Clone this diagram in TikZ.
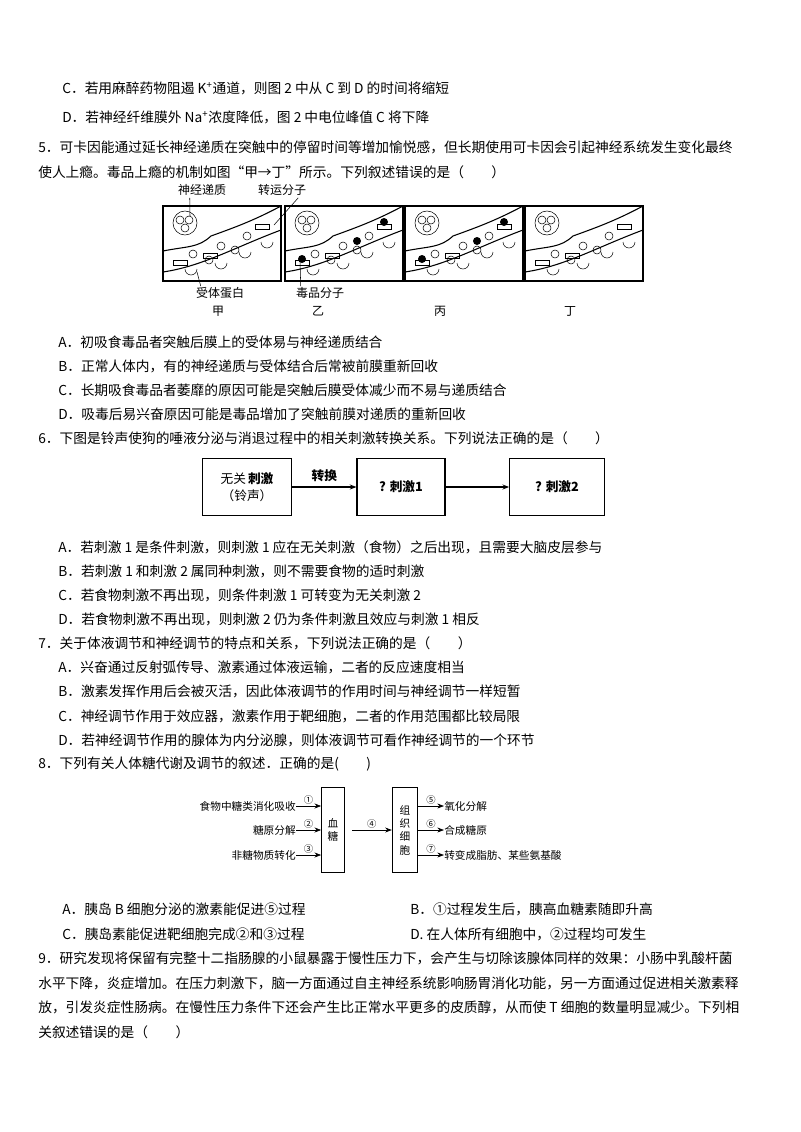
\documentclass[tikz,border=0pt]{standalone}
\usepackage{fontspec}
\setmainfont{Noto Sans CJK SC}
\usetikzlibrary{arrows.meta}
\begin{document}
\begin{tikzpicture}[x=0.75pt,y=-0.75pt,
 txt/.style={anchor=west,inner sep=0pt,font=\fontsize{10.3pt}{12pt}\selectfont},
 sm/.style={inner sep=0pt,font=\fontsize{9pt}{10pt}\selectfont},
 bx/.style={draw,line width=0.8pt},
 arr/.style={-{Stealth[length=5pt]},line width=0.6pt}]
\useasboundingbox (0,0) rectangle (800,1132);
\node[txt] (l1) at (62,88) {C．若用麻醉药物阻遏 K\textsuperscript{+}通道，则图 2 中从 C 到 D 的时间将缩短};
\node[txt] (l2) at (62,117) {D．若神经纤维膜外 Na\textsuperscript{+}浓度降低，图 2 中电位峰值 C 将下降};
\node[txt] (l3) at (38,147) {5．可卡因能通过延长神经递质在突触中的停留时间等增加愉悦感，但长期使用可卡因会引起神经系统发生变化最终};
\node[txt] (l4) at (38,172) {使人上瘾。毒品上瘾的机制如图“甲→丁”所示。下列叙述错误的是（\qquad）};
% synapse panels
\foreach \px/\dr in {163/0,285/1,405/2,525/0}{
 \begin{scope}[shift={(\px,206)}]
 \draw[line width=1pt] (0,0) rectangle (118,75);
 \draw[line width=0.8pt] (0,45) .. controls (25,40) and (35,42) .. (48,30) .. controls (70,22) and (90,15) .. (118,0);
 \draw[line width=0.8pt] (0,66) .. controls (40,60) and (70,42) .. (118,24);
 \draw (22,17) circle (12); \draw (17,14) circle (4); \draw (26,14) circle (4); \draw (22,22) circle (4);
 \foreach \rx/\ry in {28/63,58/57,82/46,104/36}{\draw (\rx-6,\ry) arc (180:0:6);}
 \foreach \cx/\cy in {30/48,58/40,84/30,46/54,72/44}{\draw (\cx,\cy) circle (4);}
 \draw (10,54) rectangle (24,59); \draw (40,47) rectangle (54,52); \draw (92,18) rectangle (106,23);
 \ifnum\dr>0
  \fill (17,53) circle (4); \fill (72,35) circle (4); \fill (99,16) circle (4);
 \fi
 \end{scope}}
\node[sm] (t1) at (202,190) {神经递质}; \node[sm] (t2) at (282,190) {转运分子};
\node[sm] (t3) at (220,293) {受体蛋白}; \node[sm] (t4) at (320,293) {毒品分子};
\draw (t1.south west)++(12,2) -- (190,216);
\draw (t2.south east)++(-8,2) -- (274,225);
\draw (t3.north west)++(5,-1) -- (197,272);
\draw (t4.north west)++(5,-1) -- (300,260);
\node[sm] (g1) at (218,311) {甲}; \node[sm] (g2) at (318,311) {乙};
\node[sm] (g3) at (440,311) {丙}; \node[sm] (g4) at (570,311) {丁};
\node[txt] at (58,342) {A．初吸食毒品者突触后膜上的受体易与神经递质结合};
\node[txt] at (58,366) {B．正常人体内，有的神经递质与受体结合后常被前膜重新回收};
\node[txt] at (58,390) {C．长期吸食毒品者萎靡的原因可能是突触后膜受体减少而不易与递质结合};
\node[txt] at (58,414) {D．吸毒后易兴奋原因可能是毒品增加了突触前膜对递质的重新回收};
\node[txt] at (38,438) {6．下图是铃声使狗的唾液分泌与消退过程中的相关刺激转换关系。下列说法正确的是（\qquad）};
\node[bx,minimum width=67pt,minimum height=43pt,align=center,font=\fontsize{9.5pt}{13pt}\selectfont] (s1) at (247,487) {无关\,\textbf{刺激}\\（铃声）};
\node[bx,minimum width=66pt,minimum height=43pt,font=\fontsize{9.5pt}{12pt}\selectfont] (s2) at (401,487) {\textbf{? 刺激1}};
\node[bx,minimum width=71pt,minimum height=43pt,font=\fontsize{9.5pt}{12pt}\selectfont] (s3) at (557,487) {\textbf{? 刺激2}};
\draw[arr,line width=1pt] (s1) -- node[above,font=\fontsize{9.5pt}{12pt}\selectfont\bfseries]{转换} (s2);
\draw[arr,line width=1pt] (s2) -- (s3);
\node[txt] at (58,547) {A．若刺激 1 是条件刺激，则刺激 1 应在无关刺激（食物）之后出现，且需要大脑皮层参与};
\node[txt] at (58,571) {B．若刺激 1 和刺激 2 属同种刺激，则不需要食物的适时刺激};
\node[txt] at (58,595) {C．若食物刺激不再出现，则条件刺激 1 可转变为无关刺激 2};
\node[txt] at (58,619) {D．若食物刺激不再出现，则刺激 2 仍为条件刺激且效应与刺激 1 相反};
\node[txt] at (38,643) {7．关于体液调节和神经调节的特点和关系，下列说法正确的是（\qquad）};
\node[txt] at (58,667) {A．兴奋通过反射弧传导、激素通过体液运输，二者的反应速度相当};
\node[txt] at (58,691) {B．激素发挥作用后会被灭活，因此体液调节的作用时间与神经调节一样短暂};
\node[txt] at (58,716) {C．神经调节作用于效应器，激素作用于靶细胞，二者的作用范围都比较局限};
\node[txt] at (58,740) {D．若神经调节作用的腺体为内分泌腺，则体液调节可看作神经调节的一个环节};
\node[txt] at (38,764) {8．下列有关人体糖代谢及调节的叙述．正确的是(\qquad)};
% sugar diagram
\node[bx,minimum width=17pt,minimum height=64pt,align=center,inner sep=1pt,font=\fontsize{8pt}{10pt}\selectfont] (xt) at (333,830) {血\\糖};
\node[bx,minimum width=19pt,minimum height=64pt,align=center,inner sep=1pt,font=\fontsize{8pt}{10pt}\selectfont] (zz) at (405,830) {组\\织\\细\\胞};
\foreach \yy/\tt/\nn in {806/食物中糖类消化吸收/①,830/糖原分解/②,855/非糖物质转化/③}{
 \node[sm,anchor=east,font=\fontsize{8pt}{10pt}\selectfont] (a\nn) at (296,\yy) {\tt};
 \draw[arr,line width=0.5pt] (a\nn.east) -- node[above,inner sep=1pt,font=\fontsize{7pt}{8pt}\selectfont]{\nn} (xt.west |- a\nn.east);}
\draw[arr,line width=0.5pt] (352,830) -- node[above,inner sep=1pt,font=\fontsize{7pt}{8pt}\selectfont]{④} (zz.west |- 0,830);
\foreach \yy/\tt/\nn in {806/氧化分解/⑤,830/合成糖原/⑥,855/转变成脂肪、某些氨基酸/⑦}{
 \node[sm,anchor=west,font=\fontsize{8pt}{10pt}\selectfont] (b\nn) at (444,\yy) {\tt};
 \draw[arr,line width=0.5pt] (zz.east |- b\nn.west) -- node[above,inner sep=1pt,font=\fontsize{7pt}{8pt}\selectfont]{\nn} (b\nn.west);}
\node[txt] at (62,909) {A．胰岛 B 细胞分泌的激素能促进⑤过程};
\node[txt] at (410,909) {B．①过程发生后，胰高血糖素随即升高};
\node[txt] at (62,934) {C．胰岛素能促进靶细胞完成②和③过程};
\node[txt] at (410,934) {D. 在人体所有细胞中，②过程均可发生};
\node[txt] at (38,958) {9．研究发现将保留有完整十二指肠腺的小鼠暴露于慢性压力下，会产生与切除该腺体同样的效果：小肠中乳酸杆菌};
\node[txt] at (38,983) {水平下降，炎症增加。在压力刺激下，脑一方面通过自主神经系统影响肠胃消化功能，另一方面通过促进相关激素释};
\node[txt] at (38,1007) {放，引发炎症性肠病。在慢性压力条件下还会产生比正常水平更多的皮质醇，从而使 T 细胞的数量明显减少。下列相};
\node[txt] at (38,1032) {关叙述错误的是（\qquad）};
\end{tikzpicture}
\end{document}
